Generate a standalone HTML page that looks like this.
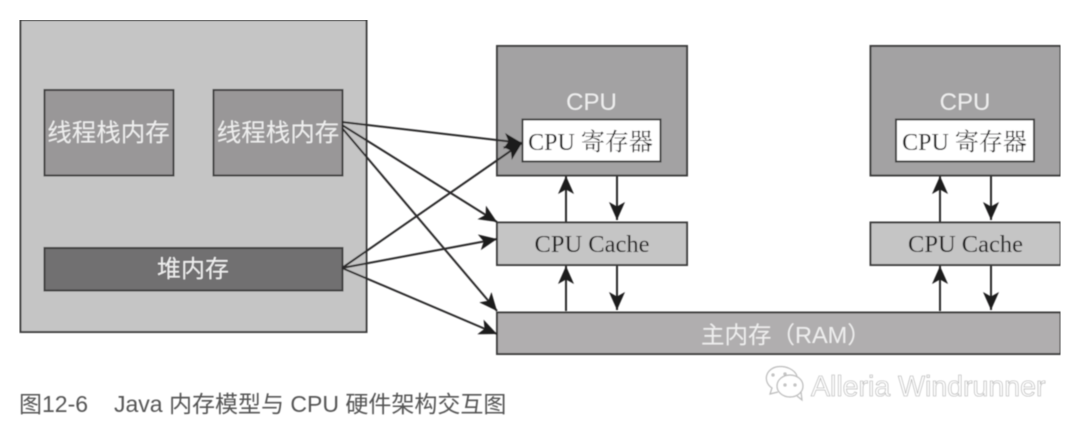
<!DOCTYPE html>
<html><head><meta charset="utf-8"><style>
html,body{margin:0;padding:0;background:#fff;width:1080px;height:431px;overflow:hidden}
svg{display:block}
.s{font-family:"Liberation Sans","Noto Sans CJK SC",sans-serif}
.t{font-family:"Liberation Serif","Noto Serif CJK SC",serif}
</style></head><body>
<svg width="1080" height="431" viewBox="0 0 1080 431" xmlns="http://www.w3.org/2000/svg">
<defs>
<marker id="a" markerUnits="userSpaceOnUse" markerWidth="21" markerHeight="18" refX="18" refY="8" orient="auto">
<path d="M0 0 L18 8 L0 16 L4.500 8Z" fill="#1f1d1e"/></marker>
<filter id="b" x="0" y="0" width="100%" height="100%"><feGaussianBlur stdDeviation="0.45"/></filter>
</defs>
<g filter="url(#b)">
<g stroke="#3c3c3c" stroke-width="2">
<rect x="20.500" y="20" width="346" height="312" fill="#c5c5c5"/>
<rect x="44.500" y="90" width="129" height="85.500" fill="#999798"/>
<rect x="213.500" y="90" width="129" height="85.500" fill="#999798"/>
<rect x="44.500" y="248" width="298" height="42.500" fill="#717071"/>
<rect x="497" y="46" width="190" height="129.500" fill="#a3a2a3"/>
<rect x="870.500" y="46" width="190" height="129.500" fill="#a3a2a3"/>
<rect x="522.500" y="119.500" width="138" height="42" fill="#fff"/>
<rect x="896" y="119.500" width="138" height="42" fill="#fff"/>
<rect x="497" y="222.500" width="190" height="42.500" fill="#c5c5c5"/>
<rect x="870.500" y="222.500" width="190" height="42.500" fill="#c5c5c5"/>
<rect x="497" y="312.500" width="563.500" height="41.500" fill="#b0aeaf"/>
</g>
<g stroke="#2b292a" stroke-width="2" fill="none" marker-end="url(#a)">
<path d="M342 122 L522 143"/>
<path d="M342 125 L497 222"/>
<path d="M342 128 L497 311"/>
<path d="M342 268 L522 143"/>
<path d="M342 268 L497 239"/>
<path d="M342 268 L497 334"/>
<path d="M566 222 L566 176"/>
<path d="M617 176 L617 220"/>
<path d="M566 311 L566 266"/>
<path d="M617 266 L617 310"/>
<path d="M940 222 L940 176"/>
<path d="M991 176 L991 220"/>
<path d="M940 311 L940 266"/>
<path d="M991 266 L991 310"/>
</g>
<g fill="#eee" class="s" text-anchor="middle">
<text x="108.500" y="141" font-size="24.500">线程栈内存</text>
<text x="278" y="141" font-size="24.500">线程栈内存</text>
<text x="193" y="277" font-size="24">堆内存</text>
<text x="591.500" y="110" font-size="24">CPU</text>
<text x="965" y="110" font-size="24">CPU</text>
</g>
<text x="701" y="343" class="s" fill="#eee" font-size="23.500">主内存（RAM）</text>
<g fill="#1f1d1e" class="t" text-anchor="middle">
<text x="590.500" y="150" font-size="24">CPU 寄存器</text>
<text x="964.500" y="150" font-size="24">CPU 寄存器</text>
<text x="592" y="252" font-size="24.500">CPU Cache</text>
<text x="965.500" y="252" font-size="24.500">CPU Cache</text>
</g>
<text x="19" y="412" class="s" font-size="23" fill="#555">图12-6</text>
<text x="114" y="412" class="s" font-size="23" fill="#555">Java 内存模型与 CPU 硬件架构交互图</text>
<g fill="none" stroke="#bbb" stroke-width="1.200">
<path d="M778 392 L770 394 L772 388 C763 382 765 370 776 367 C786 365 795 370 797 376"/>
<ellipse cx="790" cy="386" rx="13" ry="11"/>
<path d="M797 396 L802 400 L801 392"/>
<circle cx="773" cy="375" r="1"/><circle cx="785" cy="374" r="1"/>
<circle cx="785" cy="385" r="1"/><circle cx="795" cy="385" r="1"/>
</g>
<text x="811" y="396" class="s" font-size="28.500" fill="#fff" stroke="#aaa" stroke-width="0.600">Alleria Windrunner</text>
</g>
</svg>
</body></html>
